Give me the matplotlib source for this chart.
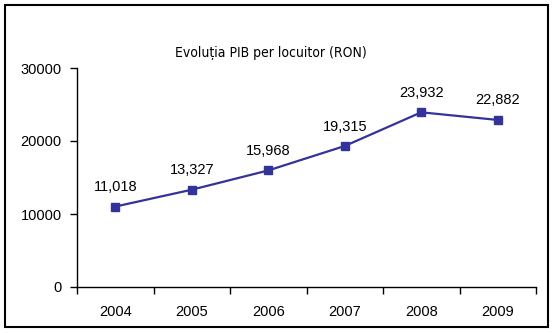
import matplotlib
matplotlib.use("Agg")
import matplotlib.pyplot as plt
from matplotlib.patches import Rectangle

years = ["2004", "2005", "2006", "2007", "2008", "2009"]
values = [11018, 13327, 15968, 19315, 23932, 22882]
yticks = [0, 10000, 20000, 30000]
title = "Evoluția PIB per locuitor (RON)"

fig = plt.figure(figsize=(5.54, 3.33), dpi=100)
fig.patches.append(Rectangle((5/554, 1 - 327/333), 543/554, 322/333, transform=fig.transFigure,
                             fill=False, edgecolor="black", linewidth=1.5))
ax = fig.add_axes([77/554, 1 - 287/333, 459/554, 219/333])
x = list(range(len(years)))
ax.plot(x, values, color="#333399", linewidth=1.6, marker="s", markersize=6,
        markerfacecolor="#333399", markeredgecolor="#333399")
for xi, v in zip(x, values):
    ax.annotate(f"{v:,}", (xi, v), xytext=(0, 9), textcoords="offset points",
                ha="center", va="bottom", fontsize=10.5, family="Liberation Sans")
ax.set_xlim(-0.5, len(years) - 0.5)
ax.set_ylim(0, 30000)
ax.set_yticks(yticks)
ax.set_yticklabels([str(t) for t in yticks], fontsize=10.5, family="Liberation Sans")
ax.set_xticks([i - 0.5 for i in range(len(years) + 1)])
ax.set_xticklabels([])
ax.set_xticks(x, minor=True)
ax.set_xticklabels(years, minor=True, fontsize=10.5, family="Liberation Sans")
ax.tick_params(axis="x", which="minor", length=0, pad=13)
ax.tick_params(axis="x", which="major", length=5, direction="out", width=1)
ax.tick_params(axis="y", length=5, direction="out", width=1, pad=6)
for s in ["top", "right"]:
    ax.spines[s].set_visible(False)
for s in ["left", "bottom"]:
    ax.spines[s].set_linewidth(1)
fig.text(271/554, 1 - 53/333, title, ha="center", va="center", fontsize=10,
         family="DejaVu Sans", fontstretch="condensed")
fig.savefig("out.png", dpi=100)
